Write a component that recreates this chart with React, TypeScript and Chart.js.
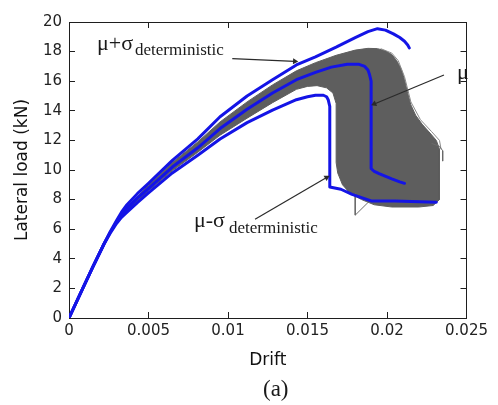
import React, { useEffect, useRef } from 'react';
import { Chart, registerables } from 'chart.js';

Chart.register(...registerables);

// ---- Axis ticks ----
const xTickLabels = ['0', '0.005', '0.01', '0.015', '0.02', '0.025'];
const yTickLabels = ['0', '2', '4', '6', '8', '10', '12', '14', '16', '18', '20'];

// ---- Series: [drift, lateral load (kN)] ----
const upperCurve: [number, number][] = [
  [0, 0], [0.0008, 1.85], [0.0015, 3.45], [0.0022, 5.0], [0.0026, 5.85], [0.003, 6.6],
  [0.0033, 7.15], [0.0036, 7.6], [0.0043, 8.4], [0.005, 9.1], [0.0065, 10.65], [0.0081, 12.1],
  [0.0095, 13.6], [0.0112, 15.0], [0.0128, 16.1], [0.0143, 17.1], [0.0155, 17.65],
  [0.0168, 18.3], [0.018, 18.95], [0.0188, 19.35], [0.0194, 19.55], [0.0199, 19.45],
  [0.0204, 19.2], [0.0208, 18.95], [0.0211, 18.7], [0.0213, 18.45], [0.0214, 18.25],
];

const meanCurve: [number, number][] = [
  [0, 0], [0.0008, 1.85], [0.0015, 3.45], [0.0022, 5.0], [0.0026, 5.8], [0.003, 6.5],
  [0.0033, 6.95], [0.0036, 7.35], [0.0043, 8.1], [0.005, 8.75], [0.0065, 10.2], [0.0081, 11.5],
  [0.0095, 12.8], [0.0112, 14.1], [0.0128, 15.2], [0.0143, 16.1], [0.0155, 16.6],
  [0.0165, 16.95], [0.0175, 17.15], [0.0182, 17.15], [0.0186, 17.0], [0.0188, 16.75],
  [0.0189, 16.45], [0.019, 16.0], [0.019, 10.1], [0.0192, 9.9], [0.0195, 9.75],
  [0.0203, 9.4], [0.0208, 9.2], [0.0211, 9.1],
];

const lowerCurve: [number, number][] = [
  [0, 0], [0.0008, 1.85], [0.0015, 3.45], [0.0022, 5.0], [0.0026, 5.75], [0.003, 6.4],
  [0.0033, 6.8], [0.0036, 7.1], [0.0043, 7.8], [0.005, 8.45], [0.0065, 9.8], [0.0081, 11.0],
  [0.0095, 12.1], [0.0112, 13.2], [0.0128, 14.05], [0.0143, 14.75], [0.015, 14.95],
  [0.0155, 15.05], [0.016, 15.05], [0.0162, 14.95], [0.0163, 14.75], [0.0164, 14.3],
  [0.0164, 8.85], [0.0171, 8.7], [0.0178, 8.35], [0.019, 7.91], [0.0205, 7.9], [0.0231, 7.82],
];

// envelope of the simulated (grey) curves
const simEnvelope: [number, number][] = [
  [0.003, 6.6], [0.0036, 7.45], [0.005, 8.95], [0.0065, 10.5], [0.0081, 11.9], [0.0095, 13.25],
  [0.0112, 14.6], [0.0128, 15.75], [0.0143, 16.7], [0.0155, 17.25], [0.0168, 17.75], [0.018, 18.1],
  [0.0188, 18.22], [0.0194, 18.2], [0.0199, 18.05], [0.0203, 17.8], [0.0206, 17.4], [0.0209, 16.8],
  [0.0211, 16.1], [0.0213, 15.2], [0.0215, 14.4], [0.0218, 13.7], [0.0222, 13.1], [0.0227, 12.5],
  [0.0231, 12.0], [0.0233, 11.4], [0.0233, 8.0], [0.0229, 7.6], [0.022, 7.5], [0.0203, 7.5],
  [0.0192, 7.65], [0.0184, 8.0], [0.0177, 8.4], [0.0172, 9.0], [0.0169, 9.8], [0.0168, 10.5],
  [0.0168, 14.5], [0.0166, 15.2], [0.0162, 15.55], [0.0156, 15.7], [0.015, 15.65], [0.0143, 15.45],
  [0.0128, 14.55], [0.0112, 13.5], [0.0095, 12.35], [0.0081, 11.2], [0.0065, 9.95], [0.005, 8.6],
  [0.0036, 7.2], [0.003, 6.5],
];

// individual simulated curves that stick out of the envelope
const simStrayDip: [number, number][] = [[0.018, 8.4], [0.018, 6.95], [0.0188, 7.8]];
const simStrayRight: [number, number][] = [[0.0228, 11.8], [0.0233, 11.6], [0.0235, 11.3], [0.0235, 10.6]];
const simStrayEdge: [number, number][] = [
  [0.0196, 18.2], [0.0203, 17.9], [0.0207, 17.4], [0.0211, 16.3], [0.0215, 14.6],
  [0.0221, 13.4], [0.0228, 12.6], [0.0233, 12.0], [0.0234, 11.4],
];

// annotation arrows: [tail, head]
const arrowUpper: [number, number][] = [[0.01027, 17.53], [0.0142, 17.34]];
const arrowMean: [number, number][] = [[0.02358, 16.42], [0.0192, 14.46]];
const arrowLower: [number, number][] = [[0.0117, 6.67], [0.0162, 9.5]];

const toPts = (arr: [number, number][]) => arr.map(([x, y]) => ({ x, y }));

const BLUE = '#1414e6';
const GREY = '#5e5e5e';
const AXIS = '#1e1e1e';

function Label(props: { left: number; baseline: number; size: number; text: string }) {
  const { left, baseline, size, text } = props;
  return (
    <div
      style={{
        position: 'absolute',
        left,
        top: baseline - 0.8375 * size,
        fontFamily: '"Liberation Serif", "Times New Roman", serif',
        fontSize: size,
        lineHeight: 1,
        whiteSpace: 'nowrap',
        color: '#1a1a1a',
        pointerEvents: 'none',
      }}
    >
      {text}
    </div>
  );
}

export default function App() {
  const ref = useRef<HTMLCanvasElement | null>(null);

  useEffect(() => {
    document.body.style.margin = '0';
    if (!ref.current) return;

    const arrowDs = (arr: [number, number][], rot: number) => ({
      data: toPts(arr),
      showLine: true,
      borderColor: '#2a2a2a',
      backgroundColor: '#2a2a2a',
      borderWidth: 1.2,
      pointRadius: [0, 3.5],
      pointStyle: 'triangle',
      rotation: [0, rot],
      pointBorderWidth: 0,
      order: 0,
    });

    const blueDs = (arr: [number, number][]) => ({
      data: toPts(arr),
      showLine: true,
      borderColor: BLUE,
      borderWidth: 3,
      borderJoinStyle: 'round',
      borderCapStyle: 'round',
      pointRadius: 0,
      tension: 0,
      fill: false,
      order: 1,
    });

    const strayDs = (arr: [number, number][], color: string) => ({
      data: toPts(arr),
      showLine: true,
      borderColor: color,
      borderWidth: 1,
      pointRadius: 0,
      fill: false,
      order: 2,
    });

    const chart = new Chart(ref.current, {
      type: 'scatter',
      data: {
        datasets: [
          arrowDs(arrowUpper, 92.6),
          arrowDs(arrowMean, 247.4),
          arrowDs(arrowLower, 59.8),
          blueDs(upperCurve),
          blueDs(meanCurve),
          blueDs(lowerCurve),
          strayDs(simStrayDip, '#6a6a6a'),
          strayDs(simStrayRight, '#6a6a6a'),
          strayDs(simStrayEdge, '#8a8a8a'),
          {
            data: toPts(simEnvelope),
            showLine: true,
            borderColor: GREY,
            backgroundColor: GREY,
            borderWidth: 1,
            borderJoinStyle: 'round',
            pointRadius: 0,
            tension: 0,
            fill: 'shape',
            order: 3,
          },
        ] as any,
      },
      options: {
        animation: false,
        responsive: false,
        events: [],
        layout: { padding: { left: 0, right: 25, top: 18, bottom: 0 } },
        plugins: {
          legend: { display: false },
          tooltip: { enabled: false },
          title: { display: false },
        },
        scales: {
          x: {
            type: 'linear',
            position: 'bottom',
            min: 0,
            max: 0.025,
            ticks: {
              stepSize: 0.005,
              autoSkip: false,
              maxRotation: 0,
              padding: 10,
              color: '#222',
              font: { family: '"DejaVu Sans", sans-serif', size: 15 },
              callback: (_v: any, i: number) => xTickLabels[i] ?? '',
            },
            grid: { drawOnChartArea: false, drawTicks: true, tickLength: -6, color: AXIS },
            border: { color: AXIS, width: 1 },
            title: {
              display: true,
              text: 'Drift',
              color: '#111',
              font: { family: '"DejaVu Sans", sans-serif', size: 17 },
              padding: { top: 0, bottom: 34 },
            },
            afterFit: (s: any) => { s.height = 87; },
          },
          x2: {
            type: 'linear',
            position: 'top',
            min: 0,
            max: 0.025,
            ticks: { stepSize: 0.005, display: false },
            grid: { drawOnChartArea: false, drawTicks: true, tickLength: -6, color: AXIS },
            border: { color: AXIS, width: 1 },
            afterFit: (s: any) => { s.height = 0; },
          },
          y: {
            type: 'linear',
            position: 'left',
            min: 0,
            max: 20,
            ticks: {
              stepSize: 2,
              padding: 13,
              color: '#222',
              font: { family: '"DejaVu Sans", sans-serif', size: 15 },
              callback: (_v: any, i: number) => yTickLabels[i] ?? '',
            },
            grid: { drawOnChartArea: false, drawTicks: true, tickLength: -6, color: AXIS },
            border: { color: AXIS, width: 1 },
            title: {
              display: true,
              text: 'Lateral load (kN)',
              color: '#111',
              font: { family: '"DejaVu Sans", sans-serif', size: 17 },
              padding: { top: 12, bottom: 0 },
            },
            afterFit: (s: any) => { s.width = 69; },
          },
          y2: {
            type: 'linear',
            position: 'right',
            min: 0,
            max: 20,
            ticks: { stepSize: 2, display: false },
            grid: { drawOnChartArea: false, drawTicks: true, tickLength: -6, color: AXIS },
            border: { color: AXIS, width: 1 },
            afterFit: (s: any) => { s.width = 0; },
          },
        },
      } as any,
    });

    return () => chart.destroy();
  }, []);

  return (
    <div style={{ position: 'relative', width: 498, height: 405, background: '#fff' }}>
      <canvas ref={ref} width={498} height={405} style={{ display: 'block' }} />
      <Label left={97} baseline={50} size={22} text="μ+σ" />
      <Label left={135} baseline={55} size={17} text="deterministic" />
      <Label left={457} baseline={79} size={22} text="μ" />
      <Label left={194} baseline={227} size={22} text="μ-σ" />
      <Label left={229} baseline={233} size={17} text="deterministic" />
      <Label left={263} baseline={396} size={23} text="(a)" />
    </div>
  );
}
